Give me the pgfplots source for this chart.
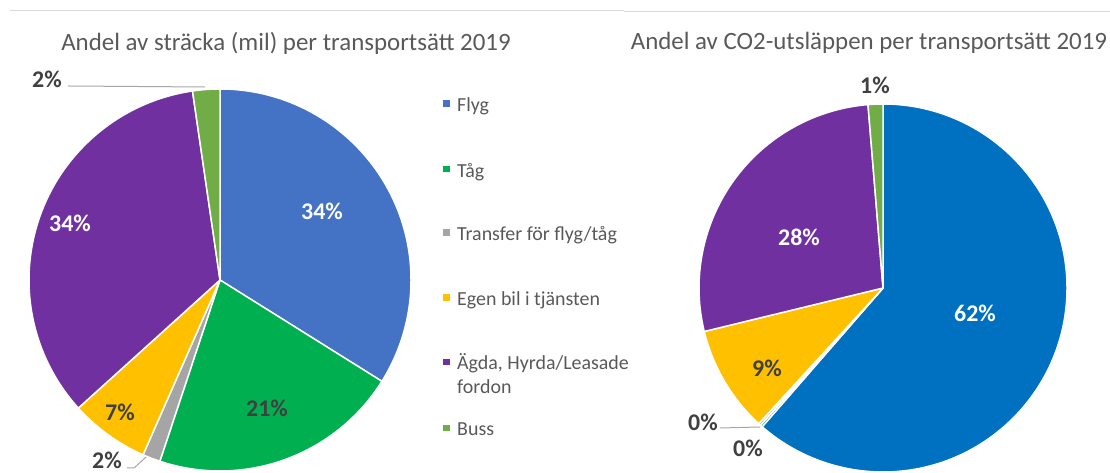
\documentclass[border=0pt]{standalone}
\usepackage{pgfplots}
\pgfplotsset{compat=1.18}
\usepackage{pgfplotstable}
\usepackage{fontspec}
\setmainfont{Carlito}

\definecolor{txt}{HTML}{595959}
\definecolor{lbl}{HTML}{404040}
\definecolor{lead}{HTML}{A6A6A6}
\definecolor{topline}{HTML}{D9D9D9}
% left pie colours
\definecolor{L0}{HTML}{4472C4}
\definecolor{L1}{HTML}{00B050}
\definecolor{L2}{HTML}{A5A5A5}
\definecolor{L3}{HTML}{FFC000}
\definecolor{L4}{HTML}{7030A0}
\definecolor{L5}{HTML}{70AD47}
% right pie colours
\definecolor{R0}{HTML}{0070C0}
\definecolor{R1}{HTML}{00B050}
\definecolor{R2}{HTML}{A5A5A5}
\definecolor{R3}{HTML}{FFC000}
\definecolor{R4}{HTML}{7030A0}
\definecolor{R5}{HTML}{70AD47}

% Andel av sträcka (mil)
\pgfplotstableread{
label val
Flyg 33.9
Tag 21.2
Transfer 1.5
Egen 6.7
Agda 34.4
Buss 2.3
}\strackadata

% Andel av CO2-utsläppen
\pgfplotstableread{
label val
Flyg 61.4
Tag 0.2
Transfer 0.2
Egen 9.4
Agda 27.5
Buss 1.3
}\codata

\newcommand{\drawpie}[3]{%
  \pgfplotstablegetrowsof{#1}\let\nrows\pgfplotsretval
  \def\curang{90}%
  \pgfmathtruncatemacro\lastrow{\nrows-1}%
  \pgfplotsforeachungrouped \i in {0,...,\lastrow}{%
    \pgfplotstablegetelem{\i}{val}\of{#1}\let\v\pgfplotsretval
    \pgfmathsetmacro\endang{\curang-3.6*\v}%
    \pgfmathsetmacro\xs{cos(\curang)}%
    \pgfmathsetmacro\ys{sin(\curang)}%
    \edef\cmd{\noexpand\filldraw[fill=#3\i,draw=white,line width=1.5bp,line join=round] (axis cs:0,0) -- (axis cs:\xs,\ys) arc[start angle=\curang, end angle=\endang, radius=#2] -- cycle;}%
    \cmd
    \let\curang\endang
  }%
}

\begin{document}
\begin{tikzpicture}[x=1bp,y=1bp]
% top separator lines
\draw[topline,line width=1bp] (10,462) -- (624,462);
\draw[topline,line width=1bp] (624,461) -- (1110,461);

% titles
\node[txt,font=\fontsize{25}{29}\selectfont] at (286,430) {Andel av sträcka (mil) per transportsätt 2019};
\node[txt,font=\fontsize{25}{29}\selectfont] at (869,430) {Andel av CO2-utsläppen per transportsätt 2019};

% left pie
\begin{axis}[at={(220bp,193bp)},anchor=center,x=191bp,y=191bp,
  xmin=-1,xmax=1,ymin=-1,ymax=1,hide axis,clip=false,scale only axis]
  \drawpie{\strackadata}{191bp}{L}
\end{axis}

% right pie
\begin{axis}[at={(883bp,185bp)},anchor=center,x=184bp,y=184bp,
  xmin=-1,xmax=1,ymin=-1,ymax=1,hide axis,clip=false,scale only axis]
  \drawpie{\codata}{184bp}{R}
\end{axis}

% left data labels
\begin{scope}[font=\bfseries\fontsize{24}{28}\selectfont]
\node[white] at (322,262) {34\%};
\node[lbl] at (267,65) {21\%};
\node[lbl] at (120,61) {7\%};
\node[lbl] at (107,13) {2\%};
\node[white] at (70,250) {34\%};
\node[lbl] at (47,394) {2\%};
% right data labels
\node[white] at (975,160) {62\%};
\node[lbl] at (767,105) {9\%};
\node[white] at (799,236) {28\%};
\node[lbl] at (875,388) {1\%};
\node[lbl] at (703,51) {0\%};
\node[lbl] at (748,25) {0\%};
\end{scope}
% leader lines
\draw[lead,line width=1bp] (127,5) -- (134,5) -- (146,16);
\draw[lead,line width=1bp] (68,387) -- (205,386);
\draw[lead,line width=1bp] (720,45) -- (760,46);

% legend
\begin{scope}[font=\fontsize{20}{24}\selectfont]
\fill[L0] (443,366.3) rectangle ++(6.5,6.5);
\node[txt,anchor=base west,inner sep=0pt] at (457,361.5) {Flyg};
\fill[L1] (443,300.5) rectangle ++(6.5,6.5);
\node[txt,anchor=base west,inner sep=0pt] at (457,295.7) {Tåg};
\fill[L2] (443,237) rectangle ++(6.5,6.5);
\node[txt,anchor=base west,inner sep=0pt] at (457,232.2) {Transfer för flyg/tåg};
\fill[L3] (443,172.3) rectangle ++(6.5,6.5);
\node[txt,anchor=base west,inner sep=0pt] at (457,167.5) {Egen bil i tjänsten};
\fill[L4] (443,107.8) rectangle ++(6.5,6.5);
\node[txt,anchor=base west,inner sep=0pt] at (457,103) {Ägda, Hyrda/Leasade};
\node[txt,anchor=base west,inner sep=0pt] at (457,79) {fordon};
\fill[L5] (443,41.8) rectangle ++(6.5,6.5);
\node[txt,anchor=base west,inner sep=0pt] at (457,37) {Buss};
\end{scope}

\pgfresetboundingbox
\useasboundingbox (0,0) rectangle (1110,473);
\end{tikzpicture}
\end{document}
